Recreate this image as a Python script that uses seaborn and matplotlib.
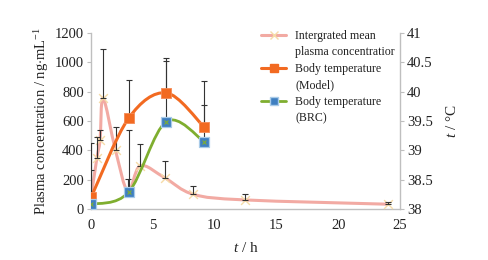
import numpy as np
import matplotlib
matplotlib.use("Agg")
import matplotlib.pyplot as plt
from matplotlib.path import Path
from matplotlib.patches import PathPatch
from matplotlib.lines import Line2D
import seaborn as sns

# ---------------- data ----------------
pk_time = [0, 0.5, 0.75, 1, 2, 3, 4, 6, 8.3, 12.5, 24]
pk_conc = [70, 350, 470, 755, 400, 120, 295, 212, 100, 62, 33]
pk_err = [0, 143, 69, 335, 160, 85, 145, 113, 60, 42, 12]

temp_time = [0.05, 3.05, 6.1, 9.15]
model_temp = [38.21, 39.545, 39.98, 39.40]
model_err = [0.92, 0.655, 0.595, 0.79]
brc_temp = [38.08, 38.285, 39.49, 39.15]
brc_err = [0.585, 1.06, 1.035, 0.625]

x_ticks = [0, 5, 10, 15, 20, 25]
left_ticks = [0, 200, 400, 600, 800, 1000, 1200]
right_ticks = [38, 38.5, 39, 39.5, 40, 40.5, 41]
legend_labels = [("Intergrated mean", "plasma concentratior"),
                 ("Body temperature", "(Model)"),
                 ("Body temperature", "(BRC)")]

# ---------------- style ----------------
sns.set_style("white")
plt.rcParams["font.family"] = ["Liberation Serif", "DejaVu Serif"]
plt.rcParams["mathtext.fontset"] = "custom"
plt.rcParams["mathtext.rm"] = "Liberation Serif"
plt.rcParams["mathtext.it"] = "Liberation Serif:italic"

PINK = "#f2aaa3"
PINK_MK = "#f6dca8"
ORANGE = "#f26a21"
GREEN = "#7fae2f"
BLUE = "#3f7fc1"
BLUE_EDGE = "#a9cbe8"
SPINE = "#bfbfbf"
TXT = "#222222"


def smooth_path(x, y):
    pts = np.column_stack([x, y]).astype(float)
    n = len(pts)
    verts = [pts[0]]
    codes = [Path.MOVETO]
    for i in range(n - 1):
        p0 = pts[i - 1] if i > 0 else pts[i]
        p1 = pts[i]
        p2 = pts[i + 1]
        p3 = pts[i + 2] if i + 2 < n else pts[i + 1]
        verts += [p1 + (p2 - p0) / 6.0, p2 - (p3 - p1) / 6.0, p2]
        codes += [Path.CURVE4] * 3
    return Path(verts, codes)


fig = plt.figure(figsize=(4.88, 2.60), dpi=100)
ax = fig.add_axes([0.186, 0.196, 0.634, 0.677])
ax2 = ax.twinx()

# pink concentration curve (left axis)
ax.add_patch(PathPatch(smooth_path(pk_time, pk_conc), facecolor="none",
                       edgecolor=PINK, lw=2.2, zorder=2))
sns.scatterplot(x=pk_time, y=pk_conc, ax=ax, marker="x", s=40,
                color=PINK_MK, linewidth=1.0, zorder=3, legend=False)
pe_t = [t for t, e in zip(pk_time, pk_err) if e > 0]
pe_v = [v for v, e in zip(pk_conc, pk_err) if e > 0]
pe_e = [e for e in pk_err if e > 0]
ax.errorbar(pe_t, pe_v, yerr=[np.zeros(len(pe_e)), pe_e], fmt="none",
            ecolor="#333333", elinewidth=0.8, capsize=2.3, capthick=0.8, zorder=4)

# temperature curves (right axis)
ax2.add_patch(PathPatch(smooth_path(temp_time, model_temp), facecolor="none",
                        edgecolor=ORANGE, lw=2.2, zorder=2))
ax2.add_patch(PathPatch(smooth_path(temp_time, brc_temp), facecolor="none",
                        edgecolor=GREEN, lw=2.0, zorder=2))
ax2.errorbar(temp_time, model_temp, yerr=[np.zeros(4), model_err], fmt="none",
             ecolor="#333333", elinewidth=0.8, capsize=2.3, capthick=0.8, zorder=3)
ax2.errorbar(temp_time, brc_temp, yerr=[np.zeros(4), brc_err], fmt="none",
             ecolor="#333333", elinewidth=0.8, capsize=2.3, capthick=0.8, zorder=3)
sns.scatterplot(x=temp_time, y=model_temp, ax=ax2, marker="s", s=50,
                color=ORANGE, edgecolor="#f58a55", linewidth=0.6, zorder=5, legend=False)
sns.scatterplot(x=temp_time, y=brc_temp, ax=ax2, marker="s", s=48,
                color=BLUE, edgecolor=BLUE_EDGE, linewidth=0.9, zorder=5, legend=False)
sns.scatterplot(x=temp_time, y=brc_temp, ax=ax2, marker="x", s=8,
                color=GREEN, linewidth=0.8, zorder=6, legend=False)

# axes
ax.set_xlim(0, 25)
ax.set_ylim(0, 1200)
ax2.set_ylim(38, 41)
ax.set_xticks(x_ticks)
ax.set_yticks(left_ticks)
ax2.set_yticks(right_ticks)
ax2.set_yticklabels([f"{v:g}" for v in right_ticks])

for a in (ax, ax2):
    for s in a.spines.values():
        s.set_color(SPINE)
        s.set_linewidth(1.0)
    a.spines["top"].set_visible(False)
    a.tick_params(colors=SPINE, labelcolor=TXT, labelsize=10.5, length=3, width=0.8)
ax.spines["right"].set_visible(False)
ax2.spines["left"].set_visible(False)
ax2.spines["bottom"].set_visible(False)
ax.tick_params(axis="y", pad=2)
ax.tick_params(axis="x", pad=4)
ax2.tick_params(axis="y", pad=2)

ax.set_xlabel(r"$\it{t}$ / h", fontsize=11, color=TXT, labelpad=7)
ax.set_ylabel(r"Plasma concentration / ng$\cdot$mL$^{-1}$", fontsize=10.5, color=TXT, labelpad=3)
ax2.set_ylabel(r"$\it{t}$ / °C", fontsize=11, color=TXT, labelpad=9)

# legend: handle aligned with first line of each two-line label
h_pink = Line2D([], [], color=PINK, lw=2.2, marker="x", markersize=6,
                markeredgecolor=PINK_MK, markeredgewidth=1.0)
h_model = Line2D([], [], color=ORANGE, lw=2.2, marker="s", markersize=6,
                 markerfacecolor=ORANGE, markeredgecolor=ORANGE)
h_brc = Line2D([], [], color=GREEN, lw=2.0, marker="s", markersize=6,
               markerfacecolor=BLUE, markeredgecolor=BLUE_EDGE)
blank = Line2D([], [], color="none")
handles, labels = [], []
for h, (l1, l2) in zip([h_pink, h_model, h_brc], legend_labels):
    handles += [h, blank]
    labels += [l1, l2]
leg = ax2.legend(handles, labels, loc="upper left", bbox_to_anchor=(0.535, 1.045),
                 frameon=False, fontsize=8.6, labelspacing=0.38, handlelength=2.1,
                 handletextpad=0.75, borderaxespad=0)
for t in leg.get_texts():
    t.set_color(TXT)

fig.savefig("out.png", dpi=100, facecolor="white")
